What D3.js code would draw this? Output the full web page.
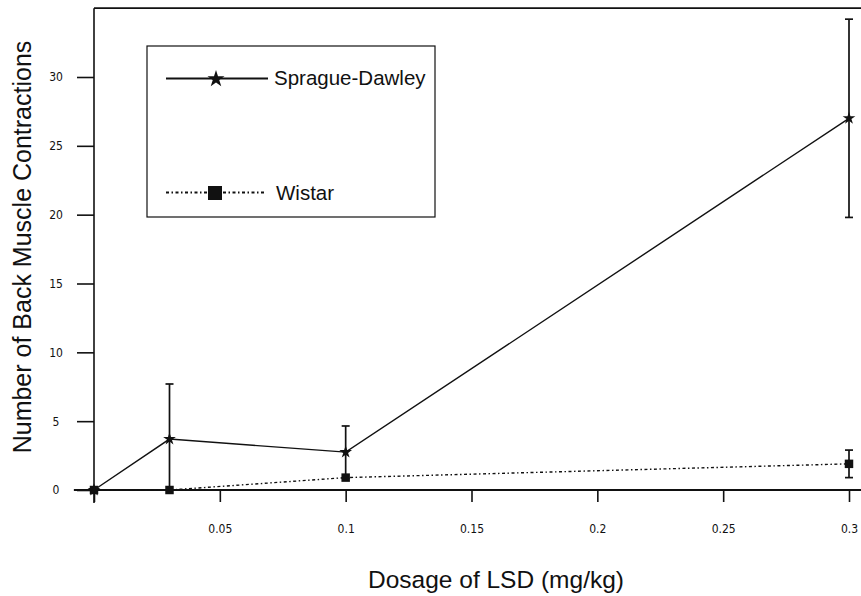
<!DOCTYPE html>
<html>
<head>
<meta charset="utf-8">
<script src="https://cdn.jsdelivr.net/npm/d3@7"></script>
<style>
  body { margin: 0; background: #fff; }
  svg { display: block; font-family: Arial, "Liberation Sans", Helvetica, sans-serif; }
  .tick text { font-family: "Liberation Sans Narrow", "Arial Narrow", "DejaVu Sans Condensed", Arial, sans-serif; font-size: 12px; fill: #111; }
</style>
</head>
<body>
<svg width="861" height="596"></svg>
<script>
// data
var doses = [0, 0.03, 0.1, 0.3];
var spragueMean = [0, 3.7, 2.75, 27];
var spragueErr = [0, 4.0, 1.9, 7.2];
var wistarMean = [0, 0, 0.9, 1.9];
var wistarErr = [0, 0, 0, 1.0];
var xTicks = [0, 0.05, 0.1, 0.15, 0.2, 0.25, 0.3];
var yTicks = [0, 5, 10, 15, 20, 25, 30];

var svg = d3.select('svg');
var svgWidth = +svg.attr('width');
var svgHeight = +svg.attr('height');

var xScale = d3.scaleLinear().domain([0, 0.3]).range([94, 849]);
var yScale = d3.scaleLinear().domain([0, 30]).range([490, 77]);
var yTop = 35;

var ink = '#111';
var dotted = '3,2.5,1.5,2.5';

// frame: top line and axes lines
svg.append('line')
    .attr('x1', xScale(0)).attr('x2', svgWidth)
    .attr('y1', yScale(yTop)).attr('y2', yScale(yTop))
    .attr('stroke', ink).attr('stroke-width', 1.6);

svg.append('line')
    .attr('x1', xScale(-0.008)).attr('x2', svgWidth)
    .attr('y1', yScale(0)).attr('y2', yScale(0))
    .attr('stroke', ink).attr('stroke-width', 1.8);

svg.append('line')
    .attr('x1', xScale(0)).attr('x2', xScale(0))
    .attr('y1', yScale(yTop)).attr('y2', yScale(0) + 13)
    .attr('stroke', ink).attr('stroke-width', 1.6);

// x axis
var xAx = d3.axisBottom(xScale)
    .tickValues(xTicks)
    .tickSize(12)
    .tickPadding(22)
    .tickFormat(function(d) { return d === 0 ? '' : d3.format('')(+d.toFixed(2)); });

var xAxis = svg.append('g')
    .attr('transform', 'translate(0,' + yScale(0) + ')')
    .call(xAx);
xAxis.select('.domain').remove();
xAxis.selectAll('.tick line').attr('stroke', ink).attr('stroke-width', 1.6);

// y axis
var yAx = d3.axisLeft(yScale)
    .tickValues(yTicks)
    .tickSize(17)
    .tickPadding(15);

var yAxis = svg.append('g')
    .attr('transform', 'translate(' + xScale(0) + ',0)')
    .call(yAx);
yAxis.select('.domain').remove();
yAxis.selectAll('.tick line').attr('stroke', ink).attr('stroke-width', 1.6);
yAxis.selectAll('.tick text').attr('text-anchor', 'middle').attr('x', -38);

// axis titles
svg.append('text')
    .attr('transform', 'translate(31,' + 247 + ') rotate(-90)')
    .attr('text-anchor', 'middle')
    .attr('font-size', 25)
    .attr('fill', ink)
    .text('Number of Back Muscle Contractions');

svg.append('text')
    .attr('x', 496).attr('y', 588)
    .attr('text-anchor', 'middle')
    .attr('font-size', 24.5)
    .attr('fill', ink)
    .text('Dosage of LSD (mg/kg)');

// lines
var sprague = doses.map(function(d, i) { return {x: d, y: spragueMean[i], e: spragueErr[i]}; });
var wistar = doses.map(function(d, i) { return {x: d, y: wistarMean[i], e: wistarErr[i]}; });

var line = d3.line()
    .x(function(d) { return xScale(d.x); })
    .y(function(d) { return yScale(d.y); });

svg.append('path')
    .datum(wistar)
    .attr('d', line)
    .attr('fill', 'none')
    .attr('stroke', ink)
    .attr('stroke-width', 1.4)
    .attr('stroke-dasharray', dotted);

svg.append('path')
    .datum(sprague)
    .attr('d', line)
    .attr('fill', 'none')
    .attr('stroke', ink)
    .attr('stroke-width', 1.4);

// error bars
function errorBars(data, cap) {
    var g = svg.append('g').selectAll('g')
        .data(data.filter(function(d) { return d.e > 0; }))
        .enter().append('g')
        .attr('stroke', ink)
        .attr('stroke-width', 1.7);
    g.append('line')
        .attr('x1', function(d) { return xScale(d.x); })
        .attr('x2', function(d) { return xScale(d.x); })
        .attr('y1', function(d) { return yScale(Math.max(0, d.y - d.e)); })
        .attr('y2', function(d) { return yScale(d.y + d.e); });
    g.append('line')
        .attr('x1', function(d) { return xScale(d.x) - cap; })
        .attr('x2', function(d) { return xScale(d.x) + cap; })
        .attr('y1', function(d) { return yScale(d.y + d.e); })
        .attr('y2', function(d) { return yScale(d.y + d.e); });
    g.append('line')
        .attr('x1', function(d) { return xScale(d.x) - cap; })
        .attr('x2', function(d) { return xScale(d.x) + cap; })
        .attr('y1', function(d) { return yScale(Math.max(0, d.y - d.e)); })
        .attr('y2', function(d) { return yScale(Math.max(0, d.y - d.e)); })
        .attr('display', function(d) { return d.y - d.e < 0 ? 'none' : null; });
}
errorBars(sprague, 4);
errorBars(wistar, 4);

// markers
svg.append('g').selectAll('path')
    .data(wistar)
    .enter().append('path')
    .attr('d', d3.symbol().type(d3.symbolSquare).size(72))
    .attr('transform', function(d) { return 'translate(' + xScale(d.x) + ',' + yScale(d.y) + ')'; })
    .attr('fill', ink);

svg.append('g').selectAll('path')
    .data(sprague)
    .enter().append('path')
    .attr('d', d3.symbol().type(d3.symbolStar).size(50))
    .attr('transform', function(d) { return 'translate(' + xScale(d.x) + ',' + yScale(d.y) + ')'; })
    .attr('fill', ink);

// legend
var legend = svg.append('g');
legend.append('rect')
    .attr('x', 147).attr('y', 46)
    .attr('width', 288).attr('height', 171)
    .attr('fill', 'none')
    .attr('stroke', ink)
    .attr('stroke-width', 1.2);

legend.append('line')
    .attr('x1', 166).attr('x2', 268).attr('y1', 78.5).attr('y2', 78.5)
    .attr('stroke', ink).attr('stroke-width', 1.8);
legend.append('path')
    .attr('d', d3.symbol().type(d3.symbolStar).size(90))
    .attr('transform', 'translate(216,79)')
    .attr('fill', ink);
legend.append('text')
    .attr('x', 274).attr('y', 85)
    .attr('font-size', 20.5)
    .attr('fill', ink)
    .text('Sprague-Dawley');

legend.append('line')
    .attr('x1', 166).attr('x2', 265).attr('y1', 192.5).attr('y2', 192.5)
    .attr('stroke', ink).attr('stroke-width', 1.8)
    .attr('stroke-dasharray', dotted);
legend.append('path')
    .attr('d', d3.symbol().type(d3.symbolSquare).size(196))
    .attr('transform', 'translate(215,193)')
    .attr('fill', ink);
legend.append('text')
    .attr('x', 276).attr('y', 200)
    .attr('font-size', 20.5)
    .attr('fill', ink)
    .text('Wistar');
</script>
</body>
</html>
